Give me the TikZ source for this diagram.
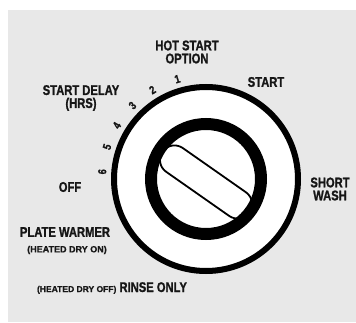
\documentclass[tikz,border=0pt]{standalone}
\usepackage{fontspec}
\newfontfamily\condfont{Liberation Sans}[FakeStretch=0.8, BoldFeatures={FakeBold=1.2}]
\newfontfamily\smallfont{Liberation Sans}[FakeStretch=1.0, BoldFeatures={FakeBold=1}]
\usetikzlibrary{calc}

\definecolor{panel}{HTML}{E8E8E8}
\definecolor{ink}{HTML}{161616}

\tikzset{
  label/.style={font=\condfont\fontsize{14}{13}\selectfont\bfseries, text=ink, inner sep=0pt, align=center},
  small/.style={font=\smallfont\fontsize{9}{9}\selectfont\bfseries, text=ink, inner sep=0pt, align=center},
  digit/.style={font=\condfont\fontsize{11.5}{11}\selectfont\bfseries, text=ink, inner sep=0pt},
}

\begin{document}
\begin{tikzpicture}[x=1pt,y=1pt]
\useasboundingbox (0,0) rectangle (356,322);
\fill[panel] (8,0) rectangle (356,312);
\coordinate (O) at (206,143);

% dial
\filldraw[fill=white, draw=black, line width=6pt] (O) circle (92);
\begin{scope}[shift={(206,140)}, rotate=-35]
  \draw[line width=1.8pt, rounded corners=14.5pt] (-53,-14.5) rectangle (53,14.5);
\end{scope}
\draw[line width=12pt] (O) circle (55);

% delay hours
\begin{scope}[shift={(O)}]
\foreach \n/\a in {1/106,2/121,3/135,4/149,5/162,6/176}{
  \node[digit, rotate=\a-90] (d\n) at (\a:104) {\n};
}
\end{scope}

% settings
\node[label] (hot) at (187,270) {HOT START\\OPTION};
\node[label] (start) at (266,240) {START};
\node[label] (delay) at (81,224) {START DELAY\\(HRS)};
\node[label] (off) at (70,135) {OFF};
\node[label] (short) at (330,133) {SHORT\\WASH};
\node[label] (plate) at (65,90) {PLATE WARMER};
\node[small] (dryon) at (67,72) {(HEATED DRY ON)};
\node[label, anchor=base] (rinse) at (112,30) {{\smallfont\fontsize{8.5}{9}\selectfont(HEATED DRY OFF)} RINSE ONLY};
\end{tikzpicture}
\end{document}
